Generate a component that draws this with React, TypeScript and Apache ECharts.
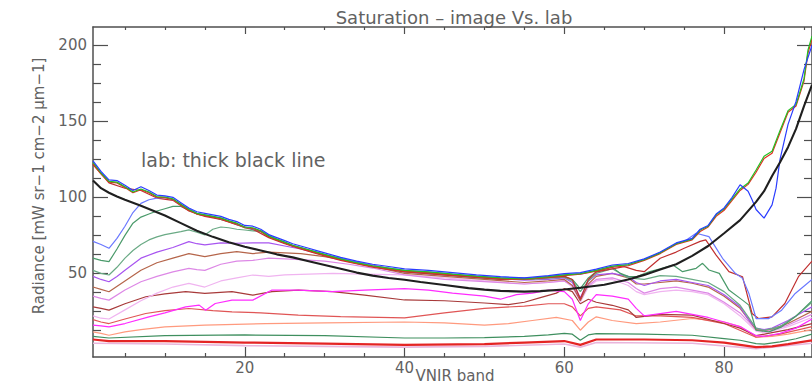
import React, { useEffect, useRef } from "react";
import * as echarts from "echarts";

// Radiance spectra per VNIR band: [band, radiance]
const blueA: [number, number][] = [[1,124],[2,117],[3,111.5],[4,111],[5,108],[6,104.5],[7,107],[8,104.5],[9,101.5],[10,101],[11,100],[12,96.5],[13,93],[14,90.5],[15,89.5],[16,88.5],[17,87.5],[18,85.5],[19,84],[20,81.5],[21,81],[22,79],[23,75.5],[24,73.5],[25,71.5],[26,69.5],[27,68],[28,66.5],[29,65],[30,63.5],[32,60.5],[34,58],[36,56],[38,54.5],[40,53],[43,52],[46,50.5],[49,49],[52,47.8],[55,47],[58,48.5],[60,49.8],[62,50.5],[64,52.8],[66,55.5],[68,56.5],[70,59.5],[72,64],[74,70],[76,73],[77,79],[78,81.5],[79,89],[80,93],[81,100],[82,108.3],[83,104],[83.5,98.4],[84,92],[85,86.3],[86,95],[86.5,106],[87,125],[88,148],[89,163],[90,184],[91,200]];
const greenA: [number, number][] = [[1,123],[2,116],[3,110.5],[4,110],[5,107],[6,103.5],[7,105.5],[8,103.5],[9,100.5],[10,100.2],[11,99],[12,95.5],[13,92],[14,89.5],[15,88.5],[16,87.5],[17,86.5],[18,84.5],[19,83],[20,80.5],[21,80],[22,78],[23,74.5],[24,72.5],[25,70.5],[26,68.5],[27,67],[28,65.5],[29,64],[30,62.5],[32,59.5],[34,57],[36,55],[38,53.5],[40,52],[43,51],[46,49.5],[49,48.2],[52,47],[55,46.3],[58,47.8],[60,49],[62,49.8],[64,52],[66,54.8],[68,55.8],[70,59],[72,63.5],[74,69.5],[76,72.5],[77,78.5],[78,81],[79,88.5],[80,92.5],[81,99],[82,105.5],[83,109.4],[84,118],[85,127],[86,130.3],[87,144],[88,157],[89,161],[90,178],[90.5,197],[91,206]];
const redA: [number, number][] = [[1,122],[2,115.5],[3,110],[4,109.5],[5,106.5],[6,103],[7,105],[8,103],[9,100],[10,99.8],[11,98.5],[12,95],[13,91.5],[14,89],[15,88],[16,87],[17,86],[18,84],[19,82.5],[20,80],[21,79.5],[22,77.5],[23,74],[24,72],[25,70],[26,68],[27,66.5],[28,65],[29,63.5],[30,62],[32,59],[34,56.5],[36,54.5],[38,53],[40,51.5],[43,50.5],[46,49],[49,47.8],[52,46.5],[55,46],[58,47.5],[60,48.5],[62,49.5],[64,51.5],[66,54],[68,55],[70,58.5],[72,63],[74,69],[76,72],[77,77.5],[78,80.5],[79,87.5],[80,91.5],[81,98],[82,104.5],[83,108.5],[84,116.5],[85,125.5],[86,129],[87,142.5],[88,156],[89,160],[90,176.5],[90.5,195],[91,204]];
const redB: [number, number][] = [[1,121.5],[3,109.5],[5,106],[7,104.5],[9,99.5],[11,98],[13,91],[15,87.5],[17,85.5],[19,82],[21,79],[23,73.5],[25,69.5],[27,66],[29,63],[32,58.5],[36,54],[40,51],[46,48.5],[52,46],[56,46.5],[60,48],[61,46],[62,33],[63,46],[64,51],[66,53],[67.5,54.4],[69,52],[70,51.1],[72,59.9],[74,64],[75,66.5],[77,71],[77.7,72],[79,62],[80.6,51.1],[82.3,47.8],[83.5,23.6],[84.3,20.3],[86,21.4],[87.6,30.2],[89.3,47.8],[91,58]];
const blueB: [number, number][] = [[1,71],[2,69],[3,66.5],[4,73],[5,81],[6,90],[7,96],[8,98.4],[9,99.5],[10,100],[11,98.5],[12,95.5],[14,89.5],[16,87.5],[18,84.5],[20,80.5],[22,78],[24,72.5],[26,68.5],[28,65.5],[30,62.5],[33,58.5],[36,55],[40,52],[44,50.5],[48,48.5],[52,47],[56,47],[60,49],[62,49.5],[64,52],[66,54.5],[68,55.5],[70,59],[72,63.5],[74,69.5],[75,71],[76.5,76.4],[78.1,74.2],[79.8,59.9],[81.4,50],[82.3,46.7],[83.1,36.8],[84,20.3],[85.6,20.3],[87.2,25.8],[88.9,36.8],[91,46]];
const greenB: [number, number][] = [[1,60],[2,58.5],[3,57.7],[4,66],[5,75],[6,83],[7,87],[8,89],[9,91],[10,92.5],[11,94],[12,94],[13,91.5],[14,89],[16,87],[18,84],[20,80],[22,77.5],[24,72],[26,68],[28,65],[30,62],[33,58],[36,54.5],[40,51.5],[44,50],[48,48],[52,46.5],[56,46.5],[60,48],[61,46],[62,40],[63,47],[64,51],[66,54],[67,50],[68,48],[69,47.8],[70.7,51.1],[72,53],[73.6,55.5],[74.8,51.1],[76.5,53.3],[77.3,56.6],[78.1,52.2],[79.4,50],[80.6,39],[82.3,32.4],[83.1,29.1],[84,12.6],[85.6,11.5],[87.2,14.8],[88.9,21.4],[91,32]];
const greenC: [number, number][] = [[1,52],[2,50],[3,48.9],[4,54],[5,60],[6,65],[7,69],[8,72],[9,74],[10,75.5],[11,76.5],[12,77.5],[13,78.6],[14,77],[15,75.3],[16,79],[17,80.5],[18,80],[19,79],[20,78.5],[21,78],[22,77.5],[23,74],[24,72],[26,68],[28,65],[30,62],[33,58],[36,54.5],[40,51],[44,49.5],[48,47.5],[52,46],[56,46],[60,47.5],[61,45],[62,38],[63,45],[64,50],[66,53],[68,47],[70,46],[72,48.5],[74,48],[76,46],[78,44],[80,38],[82,29],[84,14],[85,12.5],[87,15],[89,22],[91,31]];
const violet: [number, number][] = [[1,48],[2,46],[3,44.5],[4,48],[5,52],[7,60],[9,64],[11,67],[13,70.9],[14,69.5],[15,68.7],[17,70],[19,69.8],[21,70],[23,70],[25,68],[27,66],[30,62],[33,58.5],[36,55.5],[40,51],[45,49],[50,47],[55,45.5],[58,46],[60,47],[61,44],[62,34],[63,45],[64,49],[66,50],[68,48],[69,44],[70,42],[72,45],[74,46],[76,44],[78,42],[80,36],[82,28],[83,20],[84,14],[85,13],[86,14],[88,19],[91,28]];
const sienna: [number, number][] = [[1,41],[2,39.5],[3,37.9],[5,45],[7,52],[9,57],[11,60],[13,63],[14,62],[15,61],[17,63],[19,64.3],[21,63],[23,64],[25,63.5],[27,63],[30,61],[33,58],[36,54.5],[40,50],[45,48],[50,46],[55,44],[58,45],[60,46],[61,42],[62,32],[63,43],[64,48],[66,50],[68,47],[69,43],[70,43],[72,44],[74,45],[76,43.5],[78,41],[80,35],[82,27],[83,20],[84,13],[85,12.5],[86,13.5],[88,17],[91,25]];
const plumA: [number, number][] = [[1,35],[2,33.5],[3,32.4],[5,39],[7,44.5],[9,48],[11,51],[13,53.3],[14,52.5],[15,52],[17,56],[19,58],[21,58.5],[23,60],[25,59.5],[27,59],[30,58],[33,56],[36,53.5],[40,49],[45,46],[50,44.5],[55,43],[58,44],[60,45],[61,42],[62,33],[63,42],[64,46],[66,47],[68,44],[69,40],[70,37],[72,40],[74,41],[76,39],[78,37],[80,31],[82,24],[84,13],[85,12],[86,13],[88,16],[91,23]];
const plumB: [number, number][] = [[1,22],[2,20.5],[3,20],[5,26],[7,32],[9,37],[11,41],[13,43.4],[15,41],[17,45],[19,47],[21,48.9],[23,48],[25,49],[28,49.5],[31,50],[35,49.5],[40,49],[45,47],[50,45],[55,43],[58,44],[60,45],[61,41],[62,31],[63,41],[64,45],[66,46],[68,42],[69,38],[70,36],[72,38],[74,39],[76,38],[78,36],[80,30],[82,22],[84,12],[85,11],[86,12],[88,15],[91,21]];
const magenta: [number, number][] = [[1,16],[2,15.5],[3,14.8],[5,17],[8,21.4],[10,24],[12.6,28],[14.3,29.1],[15.1,25.8],[16.3,30.2],[18.4,32.4],[21,32.4],[23.4,39],[26.7,39],[30.9,38],[35,39],[40,40],[43,39],[46,37],[50,35],[52,33],[54,36],[56,37],[58,39],[60,38],[61,33],[62,19],[63,30],[64,36],[66,35],[68,33],[69,27],[70,22],[72,23.5],[74,25],[76,23],[78,21],[80,18],[82,15],[84,9],[85,8.5],[87,10.5],[89,14],[91,20]];
const darkRed: [number, number][] = [[1,28],[2,27],[3,25.8],[5,30],[7.6,34.6],[10,36.5],[12.6,38],[15,36.8],[18.4,38],[21,35.7],[23.4,38],[26.7,39],[31,38],[35,35.7],[40,32.5],[45,32],[50,30.5],[53,29.5],[55,31],[57,34],[59,37],[60,40],[61,38],[62,30],[63,33],[64,31],[66,29],[68,26],[69,21],[72,23],[76,22.5],[80,17],[82,14],[84,9],[86,11],[88,13],[91,17]];
const crimson: [number, number][] = [[1,19.6],[2,18],[3,17],[5,20],[7.6,23.6],[10,25.5],[13,26.9],[16,25.5],[18.4,24.7],[22,24],[26.7,22.5],[32,21.5],[40,20.7],[45,24],[50,27],[55,28.5],[58,30],[60,30],[61,28],[62,22],[63,27],[64,28],[67,26],[69,22],[72,22],[76,21],[80,17],[84,8],[87,10],[91,15]];
const salmon: [number, number][] = [[1,11.5],[2,10.5],[3,9.3],[5,11.5],[7,13],[10,14.8],[15,16],[22.6,17],[30,17.5],[40,18],[45,17.5],[50,16],[53,17],[56,19],[59,21],[61,19],[62,12.6],[63,18],[64,21.4],[66,19],[69,17],[72,18],[76,20.3],[80,18],[82,15],[84,8],[86,8.5],[88,10],[91,13]];
const greenD: [number, number][] = [[1,8.5],[3,7.5],[10,9],[20,9.5],[30,9],[40,7.5],[45,7.5],[50,7.8],[55,8.5],[58,9.5],[60,10.5],[61,10],[62,6],[63,9.5],[64,10.4],[70,10],[76,9.3],[80,7.1],[82,6],[84,3.8],[85,3.5],[87,5],[89,7],[91,10]];
const redE: [number, number][] = [[1,6.5],[3,5.5],[10,5.5],[20,4.5],[30,3.8],[40,3],[50,3.5],[55,4.5],[60,5.5],[62,3],[64,6.5],[70,6.5],[76,6],[80,4.5],[84,1.5],[86,2],[88,3.5],[91,6]];
const pinkF: [number, number][] = [[1,4],[10,3.5],[20,2.5],[30,2],[40,1.5],[50,2],[60,3.5],[62,1.5],[64,4.5],[76,4],[84,0.5],[91,4]];
// Laboratory reference spectrum
const lab: [number, number][] = [[1,111],[2,106],[3,103],[4,100.5],[5,98.4],[7,94.5],[10,88],[12,83],[14,78],[16,74],[18,70.5],[20,67.5],[22,65],[24,62.5],[26,60.5],[28,58],[30,55.5],[32,53],[34,50.5],[36,48.5],[38,47],[40,45.8],[42,44.3],[45,42.3],[48,40.3],[50,39.3],[52,38.5],[55,38],[57,38.3],[60,39.4],[62,40.5],[65,42.5],[68,46],[70,49],[72,52.5],[74,56],[76,61.5],[78,68],[80,76.4],[82,85],[84,97],[85,104],[86,114],[87,123],[88,133],[89,145],[90,160],[91,174]];

const xMajor = [20, 40, 60, 80];
const xMinor = [5, 10, 15, 25, 30, 35, 45, 50, 55, 65, 70, 75, 85, 90];
const yMajor = [50, 100, 150, 200];
const yMinor = [12.5, 25, 37.5, 62.5, 75, 87.5, 112.5, 125, 137.5, 162.5, 175, 187.5];

const FONT = "DejaVu Sans";
const AXIS = "#4f4f4f";
const TEXT = "#626262";

const spectra: { data: [number, number][]; color: string; width: number }[] = [
  { data: pinkF, color: "#e9b6dc", width: 1.6 },
  { data: redE, color: "#e42424", width: 2.2 },
  { data: greenD, color: "#3f8f5f", width: 1.2 },
  { data: salmon, color: "#ff9a7e", width: 1.2 },
  { data: crimson, color: "#e05555", width: 1.2 },
  { data: darkRed, color: "#a83a3a", width: 1.2 },
  { data: magenta, color: "#ff2cff", width: 1.2 },
  { data: plumB, color: "#f0b4f0", width: 1.2 },
  { data: plumA, color: "#dd88e6", width: 1.2 },
  { data: sienna, color: "#b5654a", width: 1.2 },
  { data: violet, color: "#a855f0", width: 1.2 },
  { data: greenC, color: "#6aaa85", width: 1.2 },
  { data: greenB, color: "#4a9a6a", width: 1.2 },
  { data: redB, color: "#c03030", width: 1.2 },
  { data: blueB, color: "#6a78ff", width: 1.2 },
  { data: redA, color: "#e03020", width: 1.2 },
  { data: greenA, color: "#22c022", width: 1.2 },
  { data: blueA, color: "#2a3cff", width: 1.2 },
  { data: lab, color: "#1f1f1f", width: 2.1 },
];

function xAxisDef(position: "top" | "bottom", values: number[], len: number, labels: boolean, line: boolean) {
  return {
    type: "value",
    min: 1,
    max: 91,
    position,
    splitLine: { show: false },
    axisLine: { show: line, onZero: false, lineStyle: { color: AXIS, width: 1.5 } },
    axisTick: { show: true, inside: true, length: len, customValues: values, lineStyle: { color: AXIS, width: 1.2 } },
    axisLabel: labels
      ? { show: true, customValues: values, fontSize: 15, color: TEXT, fontFamily: FONT, margin: 3 }
      : { show: false },
  };
}

function yAxisDef(position: "left" | "right", values: number[], len: number, labels: boolean, line: boolean) {
  return {
    type: "value",
    min: -5,
    max: 212,
    position,
    splitLine: { show: false },
    axisLine: { show: line, onZero: false, lineStyle: { color: AXIS, width: 1.5 } },
    axisTick: { show: true, inside: true, length: len, customValues: values, lineStyle: { color: AXIS, width: 1.2 } },
    axisLabel: labels
      ? { show: true, customValues: values, fontSize: 15, color: TEXT, fontFamily: FONT, margin: 6 }
      : { show: false },
  };
}

export default function App() {
  const ref = useRef<HTMLDivElement>(null);

  useEffect(() => {
    if (!ref.current) return;
    const chart = echarts.init(ref.current, undefined, { renderer: "svg" });
    chart.setOption({
      animation: false,
      backgroundColor: "#ffffff",
      grid: { left: 93, right: -5, top: 27, bottom: 31 },
      xAxis: [
        xAxisDef("bottom", xMajor, 10, true, true),
        xAxisDef("bottom", xMinor, 4, false, false),
        xAxisDef("top", xMajor, 7, false, true),
        xAxisDef("top", xMinor, 3, false, false),
      ],
      yAxis: [
        yAxisDef("left", yMajor, 15, true, true),
        yAxisDef("left", yMinor, 8, false, false),
        yAxisDef("right", yMajor, 15, false, true),
        yAxisDef("right", yMinor, 8, false, false),
      ],
      series: spectra.map((s) => ({
        type: "line",
        data: s.data,
        xAxisIndex: 0,
        yAxisIndex: 0,
        showSymbol: false,
        symbol: "none",
        silent: true,
        lineStyle: { color: s.color, width: s.width },
        itemStyle: { color: s.color },
      })),
      graphic: [
        {
          type: "text",
          x: 454,
          y: 17,
          style: { text: "Saturation – image Vs. lab", fontSize: 18, fontFamily: FONT, fill: TEXT, align: "center", verticalAlign: "middle", textAlign: "center", textVerticalAlign: "middle" },
        },
        {
          type: "text",
          x: 39,
          y: 186,
          rotation: Math.PI / 2,
          style: { text: "Radiance [mW sr−1 cm−2 μm−1]", fontSize: 15, fontFamily: FONT, fill: TEXT, align: "center", verticalAlign: "middle", textAlign: "center", textVerticalAlign: "middle" },
        },
        {
          type: "text",
          x: 455,
          y: 376,
          style: { text: "VNIR band", fontSize: 15, fontFamily: FONT, fill: TEXT, align: "center", verticalAlign: "middle", textAlign: "center", textVerticalAlign: "middle" },
        },
        {
          type: "text",
          x: 141,
          y: 160,
          style: { text: "lab: thick black line", fontSize: 19, fontFamily: FONT, fill: TEXT, align: "left", verticalAlign: "middle", textAlign: "left", textVerticalAlign: "middle" },
        },
      ],
    });
    return () => chart.dispose();
  }, []);

  return (
    <div
      ref={ref}
      style={{ position: "fixed", left: 0, top: 0, width: 812, height: 388, background: "#fff" }}
    />
  );
}
